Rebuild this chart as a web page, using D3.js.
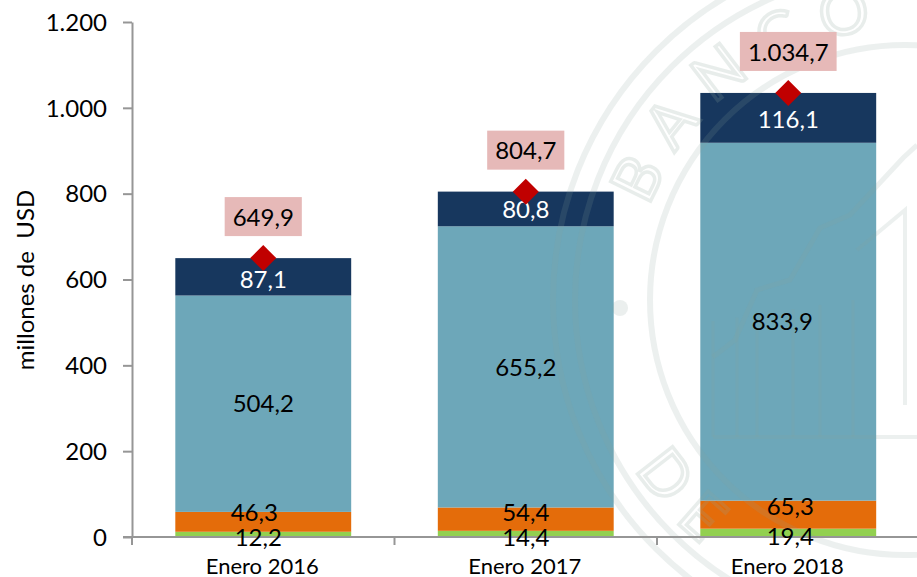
<!DOCTYPE html>
<html lang="es">
<head>
    <meta charset="UTF-8">
    <title>Enero 2016-2018</title>
    <script src="https://d3js.org/d3.v7.min.js"></script>
    <style>
        body { margin: 0; background: white; }
        text { font-family: Lato, "Open Sans", sans-serif; fill: black; }
        .domain, .tick line { stroke: #969696; stroke-width: 2; }
        .seal { fill: none; stroke: #8aa39d; stroke-opacity: .16; }
        .seal text { fill: none; stroke: #8aa39d; stroke-opacity: .2; stroke-width: 3.5; font-size: 62px; }
    </style>
</head>
<body>
<script>
    const width = 917;
    const height = 577;

    // data, millones de USD
    const categories = ["Enero 2016", "Enero 2017", "Enero 2018"];
    const green  = [12.2, 14.4, 19.4];
    const orange = [46.3, 54.4, 65.3];
    const teal   = [504.2, 655.2, 833.9];
    const navy   = [87.1, 80.8, 116.1];
    const totals = [649.9, 804.7, 1034.7];
    const yTicks = [0, 200, 400, 600, 800, 1000, 1200];

    const series = [
        {values: green,  color: "#92D050", text: "black"},
        {values: orange, color: "#E46C0A", text: "black"},
        {values: teal,   color: "#6DA7B9", text: "black"},
        {values: navy,   color: "#17375E", text: "white"}
    ];

    // hand placed labels in the original, [dx, dy] per series then per year
    const nudge = [
        [[-5, 3], [0, 3], [2, 4]],
        [[-9, -9], [0, -7], [2, -8]],
        [[0, 0], [0, 0], [-6, 0]],
        [[0, 3], [0, 0], [0, 2]]
    ];

    const svg = d3.select("body").append("svg")
            .attr("width", width).attr("height", height)
            .style("display", "block");

    const x = d3.scaleBand().domain(categories).range([132, 919.5])
            .paddingInner(.33).paddingOuter(.165);
    const y = d3.scaleLinear().domain([0, 1200]).range([537, 22]);

    const locale = d3.formatLocale({decimal: ",", thousands: ".", grouping: [3], currency: ["", ""]});
    const fmtTick = locale.format(",d");
    const fmtVal = locale.format(",.1f");

    // stacked bars
    const stacked = d3.stack().keys(d3.range(series.length))
            .value((d, k) => series[k].values[d])(d3.range(categories.length));

    stacked.forEach((layer, k) => {
        svg.append("g").selectAll("rect")
                .data(layer).enter()
                .append("rect")
                .attr("x", (d, i) => x(categories[i]))
                .attr("width", x.bandwidth())
                .attr("y", d => y(d[1]))
                .attr("height", d => y(d[0]) - y(d[1]))
                .style("fill", series[k].color);
    });

    drawSeal();

    // axes
    const gy = svg.append("g")
            .attr("transform", "translate(" + x.range()[0] + ",0)")
            .call(d3.axisLeft(y).tickValues(yTicks).tickFormat(fmtTick).tickSize(9).tickSizeOuter(0));
    gy.selectAll("text").style("font-size", "24px").attr("x", -25).attr("dy", ".34em");

    const gx = svg.append("g").attr("transform", "translate(0," + y(0) + ")");
    gx.append("line").attr("class", "domain")
            .attr("x1", 123).attr("x2", width).attr("y1", 0).attr("y2", 0);
    // tick marks sit between the categories
    gx.selectAll("line.tick-mark")
            .data(d3.range(categories.length + 1)).enter()
            .append("line")
            .attr("class", "tick-mark")
            .style("stroke", "#969696").style("stroke-width", 2)
            .attr("x1", i => x.range()[0] + i * x.step())
            .attr("x2", i => x.range()[0] + i * x.step())
            .attr("y1", 0).attr("y2", 8);
    gx.selectAll("text.cat")
            .data(categories).enter()
            .append("text")
            .attr("class", "cat")
            .attr("x", d => x(d) + x.bandwidth() / 2 - 1)
            .attr("y", 37)
            .attr("text-anchor", "middle")
            .style("font-size", "22px")
            .text(d => d);

    svg.append("text")
            .attr("transform", "translate(34,280) rotate(-90)")
            .attr("text-anchor", "middle")
            .style("font-size", "24px")
            .style("white-space", "pre")
            .text("millones de  USD");

    // segment labels
    stacked.forEach((layer, k) => {
        svg.append("g").selectAll("text")
                .data(layer).enter()
                .append("text")
                .attr("x", (d, i) => x(categories[i]) + x.bandwidth() / 2 + nudge[k][i][0])
                .attr("y", (d, i) => y((d[0] + d[1]) / 2) + nudge[k][i][1])
                .attr("dy", ".36em")
                .attr("text-anchor", "middle")
                .style("font-size", "24px")
                .style("fill", series[k].text)
                .text((d, i) => fmtVal(series[k].values[i]));
    });

    // totals: diamond + pink box
    const gt = svg.append("g").selectAll("g")
            .data(totals).enter()
            .append("g")
            .attr("transform", (d, i) => "translate(" + (x(categories[i]) + x.bandwidth() / 2) + "," + y(d) + ")");

    gt.append("path")
            .attr("d", d3.symbol(d3.symbolSquare, 338))
            .attr("transform", "rotate(45)")
            .style("fill", "#C00000");

    const totalLabels = gt.append("text")
            .attr("y", -41)
            .attr("dy", ".36em")
            .attr("text-anchor", "middle")
            .style("font-size", "24px")
            .text(fmtVal);

    totalLabels.each(function() {
        const w = this.getComputedTextLength() + 16;
        d3.select(this.parentNode).insert("rect", "text")
                .attr("x", -w / 2).attr("width", w)
                .attr("y", -61).attr("height", 39)
                .style("fill", "#E6B9B8");
    });

    // faint bank seal behind everything, just decoration
    function drawSeal() {
        const cx = 905, cy = 300;
        const seal = svg.append("g").attr("class", "seal");
        [[255, 6], [330, 6], [352, 6]].forEach(r => {
            seal.append("circle").attr("cx", cx).attr("cy", cy).attr("r", r[0])
                    .style("stroke-width", r[1]);
        });
        seal.append("circle").attr("cx", 620).attr("cy", 308).attr("r", 8)
                .style("fill", "#8aa39d").style("fill-opacity", .17).style("stroke", "none");

        // stepped columns of the building
        const line = d3.line();
        seal.append("path").style("stroke-width", 5)
                .attr("d", line([[713, 357], [735, 340], [757, 290], [790, 280], [820, 228], [850, 215], [903, 158], [917, 145]]));
        seal.append("path").style("stroke-width", 4)
                .attr("d", line([[857, 250], [905, 210], [905, 405]]));
        seal.append("path").style("stroke-width", 4)
                .attr("d", line([[713, 437], [917, 437]]));
        [713, 737, 757, 793, 820, 853].forEach(px => {
            seal.append("path").style("stroke-width", 3)
                    .attr("d", line([[px, 437], [px, 300 + (853 - px) * .15]]));
        });

        // lettering along the ring
        const polar = (r, deg) => [cx + r * Math.cos(deg * Math.PI / 180), cy + r * Math.sin(deg * Math.PI / 180)];
        const defs = svg.append("defs");
        const top0 = polar(272, 200), top1 = polar(272, 300);
        defs.append("path").attr("id", "ring-top")
                .attr("d", "M" + top0 + "A272,272 0 0 1 " + top1);
        const bot0 = polar(318, 148), bot1 = polar(318, 105);
        defs.append("path").attr("id", "ring-bottom")
                .attr("d", "M" + bot0 + "A318,318 0 0 0 " + bot1);
        seal.append("text").style("letter-spacing", "20px")
                .append("textPath").attr("href", "#ring-top").text("BANCO C");
        seal.append("text").style("letter-spacing", "18px")
                .append("textPath").attr("href", "#ring-bottom").text("DE");
    }

</script>

</body>
</html>
